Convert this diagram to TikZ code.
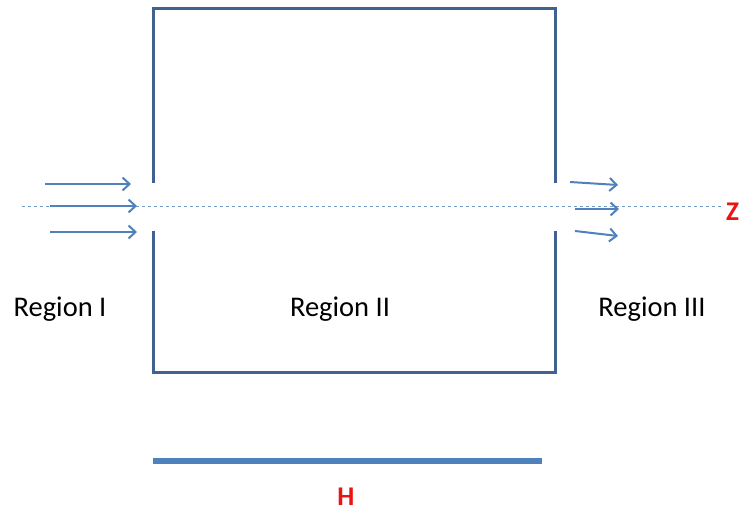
\documentclass[tikz,border=0pt]{standalone}
\usepackage{fontspec}
\setmainfont{Carlito}
\usetikzlibrary{arrows.meta}
\definecolor{wallblue}{RGB}{65,98,145}
\definecolor{flowblue}{RGB}{79,129,189}
\definecolor{axisred}{RGB}{235,20,20}
\tikzset{
  wall/.style={draw=wallblue, line width=3pt},
  flow/.style={draw=flowblue, line width=2pt, -{Straight Barb[length=7pt,width=13pt,line width=2pt]}},
  axisline/.style={draw=flowblue!80, line width=0.8pt, dash pattern=on 3pt off 3pt},
  region/.style={font=\fontsize{28.5}{32}\selectfont, text=black, inner sep=0pt},
  redlabel/.style={font=\fontsize{27}{30}\selectfont\bfseries, text=axisred, inner sep=0pt},
}
\begin{document}
\begin{tikzpicture}[x=1pt,y=-1pt]
\useasboundingbox (0,0) rectangle (747,515);
% box with openings on the axis
\coordinate (lt) at (153,8);
\coordinate (lg1) at (153,183);
\coordinate (lg2) at (153,231);
\coordinate (lb) at (153,372);
\coordinate (rt) at (555,8);
\coordinate (rg1) at (555,183);
\coordinate (rg2) at (555,231);
\coordinate (rb) at (555,372);
\draw[wall] (lg1) -- (lt) -- (rt) -- (rg1);
\draw[wall] (lg2) -- (lb) -- (rb) -- (rg2);
% axis
\coordinate (za) at (22,206);
\coordinate (zb) at (724,206);
\draw[axisline] (za) -- (zb);
\node[redlabel, anchor=west] (z) at (726,212) {Z};
% incoming flow
\coordinate (a1s) at (45,184);  \coordinate (a1e) at (131,184);
\coordinate (a2s) at (50,206);  \coordinate (a2e) at (137,206);
\coordinate (a3s) at (50,232);  \coordinate (a3e) at (137,232);
\draw[flow] (a1s) -- (a1e);
\draw[flow] (a2s) -- (a2e);
\draw[flow] (a3s) -- (a3e);
% outgoing flow
\coordinate (b1s) at (570,182);  \coordinate (b1e) at (618,185);
\coordinate (b2s) at (575,209);  \coordinate (b2e) at (619,209);
\coordinate (b3s) at (575,231);  \coordinate (b3e) at (618,236);
\draw[flow] (b1s) -- (b1e);
\draw[flow] (b2s) -- (b2e);
\draw[flow] (b3s) -- (b3e);
% region labels
\node[region] (r1) at (60,309) {Region I};
\node[region] (r2) at (340,309) {Region II};
\node[region] (r3) at (652,309) {Region III};
% length bar
\coordinate (h1) at (153,461);
\coordinate (h2) at (542,461);
\draw[draw=flowblue, line width=6pt] (h1) -- (h2);
\node[redlabel] (h) at (346,497) {H};
\end{tikzpicture}
\end{document}
